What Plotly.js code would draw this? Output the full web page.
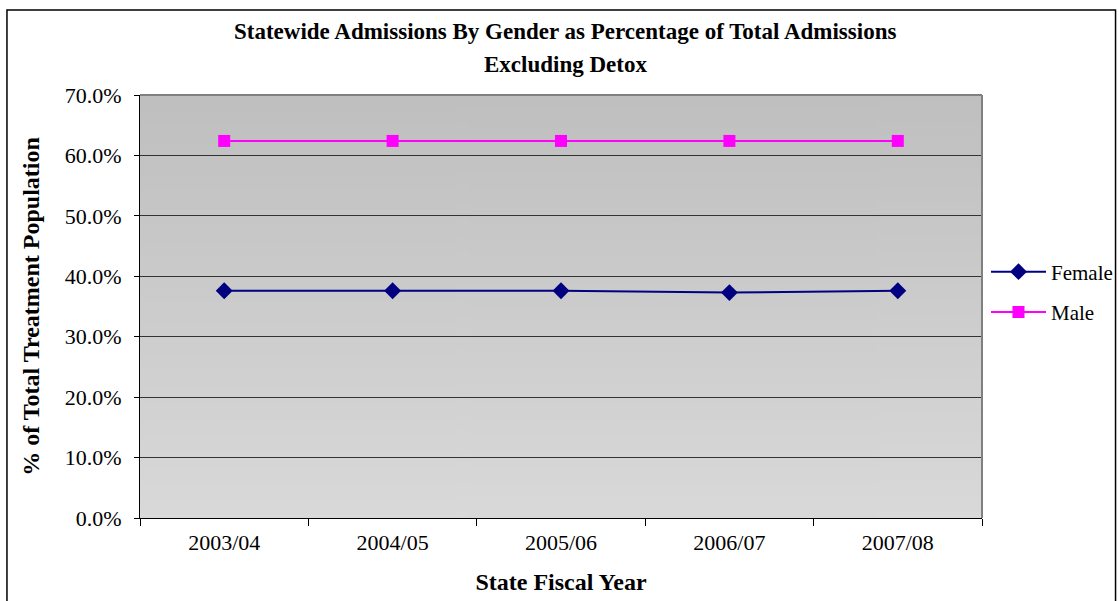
<!DOCTYPE html>
<html>
<head>
<meta charset="utf-8">
<script src="https://cdn.plot.ly/plotly-3.0.1.min.js"></script>
<style>html,body{margin:0;padding:0;background:#fff;}#chart{width:1119px;height:601px;}</style>
</head>
<body>
<div id="chart"></div>
<script>
const years = ["2003/04", "2004/05", "2005/06", "2006/07", "2007/08"];
const female = [37.6, 37.6, 37.6, 37.3, 37.6];
const male = [62.4, 62.4, 62.4, 62.4, 62.4];
const yTicks = [0, 10, 20, 30, 40, 50, 60, 70];
const yTickText = yTicks.map(v => v.toFixed(1) + '%');
const titleLines = ['Statewide Admissions By Gender as Percentage of Total Admissions', 'Excluding Detox'];

// gradient background image for the plot area
const cv = document.createElement('canvas');
cv.width = 4; cv.height = 256;
const ctx = cv.getContext('2d');
const g = ctx.createLinearGradient(0, 0, 0, 256);
g.addColorStop(0, '#bfbfbf');
g.addColorStop(1, '#d9d9d9');
ctx.fillStyle = g;
ctx.fillRect(0, 0, 4, 256);
const bg = cv.toDataURL('image/png');

const serif = "'Liberation Serif', 'Times New Roman', serif";

const traces = [
  {
    x: years, y: female, name: 'Female', type: 'scatter', mode: 'lines+markers',
    legendgroup: 'f',
    line: {color: '#000080', width: 2},
    marker: {symbol: 'diamond', size: 13, color: '#000080'}
  },
  {
    x: years, y: male, name: 'Male', type: 'scatter', mode: 'lines+markers',
    legendgroup: 'm',
    line: {color: '#ff00ff', width: 2},
    marker: {symbol: 'square', size: 12, color: '#ff00ff'}
  }
];

const layout = {
  width: 1119, height: 601,
  margin: {l: 140, r: 137, t: 95, b: 83},
  paper_bgcolor: '#ffffff',
  plot_bgcolor: 'rgba(0,0,0,0)',
  font: {family: serif, color: '#000'},
  showlegend: true,
  legend: {
    xref: 'container', yref: 'container',
    x: 986 / 1119, xanchor: 'left', y: 1 - 292 / 601, yanchor: 'middle',
    font: {family: serif, size: 21, color: '#000'},
    bgcolor: 'rgba(0,0,0,0)', borderwidth: 0,
    itemwidth: 55,
    tracegroupgap: 10
  },
  xaxis: {
    type: 'category',
    range: [-0.5, 4.5],
    showgrid: false,
    showline: true, linecolor: '#000', linewidth: 1,
    ticks: 'outside', tickson: 'boundaries', ticklen: 7, tickcolor: '#000',
    tickfont: {family: serif, size: 22, color: '#000'},
    ticklabelstandoff: 5,
    title: {text: '<b>State Fiscal Year</b>', font: {family: serif, size: 24, color: '#000'}, standoff: 18},
    fixedrange: true
  },
  yaxis: {
    range: [0, 70],
    tickvals: yTicks,
    ticktext: yTickText,
    showgrid: true, gridcolor: '#333333', gridwidth: 1,
    zeroline: false,
    showline: true, linecolor: '#000', linewidth: 1,
    ticks: 'outside', ticklen: 5, tickcolor: '#000',
    tickfont: {family: serif, size: 22, color: '#000'},
    ticklabelstandoff: 8,
    title: {text: '<b>% of Total Treatment Population</b>', font: {family: serif, size: 24, color: '#000'}, standoff: 18},
    fixedrange: true
  },
  annotations: [
    {text: '<b>' + titleLines[0] + '</b>', xref: 'paper', yref: 'paper', x: 0.505, y: (518 - 31) / 423, xanchor: 'center', yanchor: 'middle', showarrow: false, font: {family: serif, size: 23, color: '#000'}},
    {text: '<b>' + titleLines[1] + '</b>', xref: 'paper', yref: 'paper', x: 0.505, y: (518 - 64) / 423, xanchor: 'center', yanchor: 'middle', showarrow: false, font: {family: serif, size: 23, color: '#000'}}
  ],
  images: [{
    source: bg, xref: 'paper', yref: 'paper',
    x: 0, y: 1, sizex: 1, sizey: 1, sizing: 'stretch',
    xanchor: 'left', yanchor: 'top', layer: 'below'
  }],
  shapes: [
    {type: 'line', xref: 'paper', yref: 'paper', x0: 0, x1: 1, y0: 1, y1: 1, line: {color: '#808080', width: 2}},
    {type: 'line', xref: 'paper', yref: 'paper', x0: 1, x1: 1, y0: 0, y1: 1, line: {color: '#808080', width: 2}},
    {type: 'rect', xref: 'paper', yref: 'paper', x0: -0.158, x1: 1.1586, y0: -0.3, y1: 1.2009, line: {color: '#000', width: 1.5}, fillcolor: 'rgba(0,0,0,0)'}
  ]
};

Plotly.newPlot('chart', traces, layout, {displayModeBar: false, staticPlot: true});
</script>
</body>
</html>
